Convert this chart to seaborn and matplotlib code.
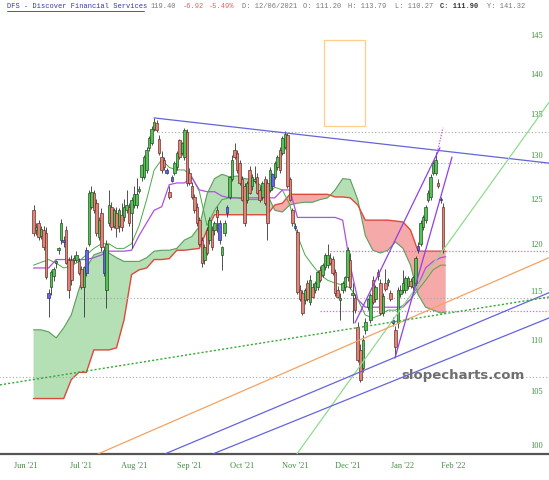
import numpy as np
import pandas as pd
import matplotlib
matplotlib.use("Agg")
import matplotlib.pyplot as plt
import seaborn as sns
from matplotlib.patches import Rectangle
from matplotlib.lines import Line2D
from matplotlib.ticker import NullLocator, NullFormatter

# ---------------- header ----------------
ticker_name = "DFS - Discover Financial Services"
hdr_last = "119.40"
hdr_chg = "-6.92"
hdr_pct = "-5.49%"
hdr_date = "D: 12/06/2021"
hdr_o = "O: 111.20"
hdr_h = "H: 113.79"
hdr_l = "L: 110.27"
hdr_c = "C: 111.90"
hdr_y = "Y: 141.32"

# ---------------- calendar ----------------
holidays = ["2021-07-05", "2021-09-06", "2021-11-25", "2021-12-24", "2022-01-17", "2022-02-21"]
month_labels = ["Jun '21", "Jul '21", "Aug '21", "Sep '21", "Oct '21", "Nov '21", "Dec '21", "Jan '22", "Feb '22"]
first_candle_date = "2021-06-04"

# ---------------- candles (daily OHLC) ----------------
opens = [123.7,121.5,122.3,120.9,121.5,121.2,114.3,115.4,116.6,117.9,119.3,120.4,120.2,121.5,118.3,118.3,118.3,118.3,118.1,117.3,
         115.4,116.9,120.0,124.1,125.7,124.5,120.7,123.4,116.9,115.1,122.3,124.1,122.0,123.4,122.0,123.2,122.9,123.7,124.1,123.4,
         124.3,124.3,125.9,127.5,127.5,128.3,130.9,131.5,133.2,133.9,132.0,129.8,129.5,128.0,125.8,127.0,128.0,128.6,131.8,130.3,
         129.8,132.8,128.0,126.4,125.2,124.1,122.6,120.4,118.3,121.5,120.4,121.5,121.5,123.7,120.4,118.8,121.2,123.4,125.2,127.2,
         130.7,130.3,129.1,127.2,126.4,124.9,128.3,126.4,127.0,127.5,126.0,125.2,127.2,126.8,126.0,126.4,127.5,128.6,130.7,130.3,
         131.0,132.4,127.2,123.7,121.7,121.3,115.1,114.8,114.0,115.8,113.8,115.4,115.1,115.4,117.2,116.7,117.5,117.7,118.5,118.4,
         117.0,115.1,114.0,115.1,115.4,116.4,118.3,114.6,114.3,111.3,109.0,107.2,111.0,113.3,112.0,116.1,114.1,117.0,115.8,112.7,
         115.8,115.9,114.8,111.7,111.0,111.7,114.7,115.1,115.1,115.5,116.0,115.4,115.8,119.3,120.0,121.8,122.6,124.9,125.2,128.0,
         128.0,126.8,124.8,124.1]
highs = [124.3,122.3,122.6,122.0,122.0,121.8,115.2,117.2,117.5,118.3,119.7,122.7,120.9,121.9,118.6,118.8,118.8,119.2,118.5,117.6,
         117.6,119.6,126.0,126.4,126.0,125.0,123.0,123.9,119.8,120.4,126.0,124.6,124.0,124.1,123.9,124.5,125.0,126.0,124.5,125.2,
         126.4,127.4,126.5,129.0,130.0,131.0,132.3,133.5,134.5,134.2,132.4,130.5,129.8,128.5,126.5,127.7,129.3,130.5,132.0,131.6,
         133.3,133.2,128.5,126.9,125.5,124.5,123.0,120.7,120.0,121.8,123.0,122.0,122.5,124.2,122.6,119.8,122.6,124.3,127.6,130.0,
         131.5,130.7,129.5,127.6,126.8,127.0,128.8,127.8,128.8,128.0,126.4,127.0,127.6,127.2,128.6,128.0,129.4,130.0,131.0,132.3,
         132.9,132.7,127.5,124.0,122.3,121.6,115.6,115.1,115.3,116.1,116.7,115.8,116.0,117.2,117.6,117.9,119.0,120.0,119.0,118.7,
         117.3,115.5,114.8,116.0,116.6,119.6,119.0,115.8,114.7,111.8,109.6,110.5,112.2,114.3,114.8,116.6,115.6,117.3,116.2,114.8,
         117.3,116.3,115.1,112.3,111.4,115.4,115.6,117.2,116.5,116.6,116.3,116.6,118.7,120.2,122.6,123.2,124.3,126.0,127.8,129.4,
         130.4,127.2,125.2,124.5]
lows = [120.9,121.0,120.4,120.5,119.3,116.2,112.3,114.6,116.0,117.4,118.9,120.0,119.6,117.8,114.3,115.6,117.9,118.0,116.7,115.2,
        112.3,116.5,119.8,123.8,123.4,120.9,120.4,119.2,116.5,113.2,122.0,121.5,121.7,120.7,121.3,121.4,122.5,123.4,122.0,119.5,
        124.0,124.0,125.6,127.0,127.2,128.0,130.5,131.2,132.9,132.8,130.0,128.0,128.3,127.8,125.0,126.9,127.7,128.3,129.6,130.0,
        129.5,126.5,126.6,125.0,123.4,122.0,119.8,117.5,117.8,118.8,120.0,119.3,121.0,121.3,120.0,117.2,120.9,123.0,125.0,127.0,
        129.6,128.0,126.6,124.7,122.0,124.5,125.5,126.0,126.8,125.5,124.6,124.9,124.3,120.4,125.8,126.0,127.2,128.3,128.0,130.0,
        130.8,126.2,124.7,122.0,121.5,114.7,113.9,112.5,113.6,113.9,113.5,114.2,114.8,115.1,115.9,116.4,117.2,117.4,117.7,116.7,
        114.5,114.3,112.0,114.8,115.0,116.0,115.2,111.7,112.7,107.8,105.9,106.8,110.6,113.0,111.7,113.6,113.8,116.1,112.5,112.4,
        115.0,115.5,113.9,111.4,108.3,111.2,114.4,114.8,114.8,115.2,115.3,115.0,115.5,119.0,119.8,121.5,122.3,124.6,124.9,127.7,
        127.7,126.2,124.5,119.0]
closes = [121.2,121.8,120.7,121.6,119.6,116.4,114.8,117.0,117.3,118.0,119.4,122.3,120.4,117.9,115.1,116.1,118.5,118.8,116.9,115.4,
          117.5,119.3,125.7,125.8,123.7,121.2,122.6,119.6,119.3,120.0,124.3,121.8,123.7,121.7,123.7,121.8,124.1,124.3,122.3,124.9,
          125.5,125.5,126.0,128.9,129.8,130.7,132.1,133.2,134.0,133.0,130.3,128.3,128.6,128.3,125.2,127.5,129.1,130.3,129.8,131.5,
          133.0,126.8,126.8,125.2,123.7,122.3,120.0,117.9,119.6,119.0,122.6,119.6,122.3,122.9,122.3,119.6,122.3,124.1,127.5,129.5,
          129.8,128.3,126.8,124.9,122.3,126.8,125.7,127.5,127.2,125.7,124.9,126.8,124.5,122.3,128.3,127.8,129.1,129.8,128.3,132.1,
          132.6,126.4,124.9,122.3,122.0,114.9,114.1,112.7,115.1,114.1,116.1,114.4,115.8,117.0,116.1,117.7,118.8,118.8,117.9,116.9,
          114.8,114.4,114.2,115.8,116.4,119.3,115.4,114.7,113.0,108.0,106.1,110.0,111.8,114.1,114.6,113.8,115.4,116.5,112.7,114.5,
          115.2,116.0,114.1,112.0,109.3,115.1,115.1,115.8,116.3,116.3,115.5,116.4,118.5,119.8,122.3,122.9,124.1,125.7,127.5,129.1,
          129.5,126.4,125.0,119.4]
tones = ("rgrgrrbgggggbrrrggrr" "gbggrrgrbggrgrgrggrg" "gggggggggrrrrbrbggrg" "grrrrrrrgrgrgrbggbgg"
         "rrrrrgrggrrgrrgbggrg" "grrrbrrrgrgrggrgggrr" "rrggggrgrrrggggrgrrg" "rgrbrgggggrggbgggggg" "grbr")

# ---------------- ichimoku lines (sampled every 3 sessions) ----------------
span_a = [111.0,111.0,110.8,110.2,111.2,112.5,115.1,117.4,118.8,119.1,119.0,118.5,118.1,118.1,118.1,118.5,119.2,119.3,119.3,119.5,
          120.4,120.8,121.9,125.5,127.3,127.8,127.5,127.6,127.3,127.2,126.6,125.5,123.7,123.5,124.3,124.5,124.6,124.6,124.9,125.1,
          126.0,127.3,127.2,124.9,120.9,119.3,119.0,119.3,120.2,119.5,117.7,114.6,113.3,113.0,112.7,112.8]
span_b = [104.3,104.3,104.3,104.3,104.3,106.1,106.8,106.8,109.0,109.0,109.0,109.2,112.0,116.7,117.2,117.4,118.3,118.3,118.4,119.3,
          119.3,119.4,119.5,121.5,123.2,123.2,123.2,123.2,123.2,123.2,123.2,123.2,124.3,124.5,125.5,125.5,125.5,125.5,125.5,125.5,
          125.2,125.2,125.1,124.3,122.6,122.6,122.6,122.6,122.5,122.4,121.5,119.2,119.2,119.2,119.2,119.2]
kijun = [117.4,117.4,117.4,118.3,118.3,118.3,118.3,118.3,118.5,118.8,119.2,119.2,119.2,119.3,120.9,122.3,123.7,124.1,126.6,126.8,
         126.8,127.4,126.0,125.8,125.8,125.3,125.1,125.1,125.1,125.1,125.1,125.1,125.1,126.0,126.0,122.9,122.9,122.9,122.9,122.9,
         122.9,122.6,117.7,114.1,113.3,113.3,113.3,113.3,113.3,113.3,114.1,115.6,117.4,118.1,118.5,118.6]
tenkan = [117.7,118.0,118.3,117.9,117.4,117.6,118.1,118.8,119.5,120.0,120.0,119.5,119.5,120.0,122.0,124.9,128.3,129.5,128.6,128.3,
          128.3,127.5,125.8,122.0,123.7,124.9,125.1,125.1,124.9,124.9,124.9,125.5,126.3,126.0,124.3,120.9,118.8,117.7,116.7,116.1,
          115.8,115.6,115.3,114.1,112.5,112.2,112.5,113.0,113.0,113.5,114.1,115.1,116.1,117.2,117.7,117.7]

# ---------------- drawn studies (session index, price) ----------------
down_trend = [(50.9, 134.5), (208.1, 129.1)]
green_ray = [(107.8, 99.2), (208.1, 136.4)]
orange_ray = [(28.7, 99.2), (208.1, 118.5)]
blue_ray_1 = [(55.3, 99.2), (208.1, 114.8)]
blue_ray_2 = [(74.4, 99.2), (208.1, 112.2)]
green_dotted = [(-10.4, 105.6), (208.1, 114.35)]
channel_a = [(130.9, 111.7), (164.7, 130.9)]
channel_b = [(146.8, 108.2), (169.5, 129.8)]
channel_ext = [(163.9, 130.7), (165.9, 133.3)]
target_box = [(118.6, 133.5), (134.9, 144.3)]
gray_levels = [(132.8, 52.4), (129.1, 63.0), (114.3, 21.5), (106.4, -11.0)]
magenta_levels = [(119.2, 121.0), (112.9, 117.0)]
price_ticks = [100, 105, 110, 115, 120, 125, 130, 135, 140, 145]

# ---------------- figure ----------------
sns.set_theme(style="white")
plt.rcParams["font.family"] = ["DejaVu Sans"]

W, H = 549, 480
fig = plt.figure(figsize=(W / 100, H / 100), dpi=100)
fig.patch.set_facecolor("white")
ax = fig.add_axes([0, 26 / H, 1, 454 / H])
ax.set_facecolor("white")

days = pd.bdate_range("2021-06-01", "2022-04-29", freq="C", holidays=holidays)
month_pos = [int(np.argmax((days.year == d.year) & (days.month == d.month)))
             for d in pd.date_range("2021-06-01", periods=len(month_labels), freq="MS")]
c0 = days.get_loc(pd.Timestamp(first_candle_date))
cx = np.arange(c0, c0 + len(closes))
line_x = np.r_[np.arange(3, 166, 3), 167]

sa = np.array(span_a)
sb = np.array(span_b)
ax.fill_between(line_x, sa, sb, where=sa >= sb, interpolate=True, color="#b5dfb5", lw=0, zorder=1)
ax.fill_between(line_x, sa, sb, where=sa < sb, interpolate=True, color="#f6a9a9", lw=0, zorder=1)

line_df = pd.DataFrame({"x": line_x, "span_a": span_a, "span_b": span_b, "kijun": kijun, "tenkan": tenkan})
sns.lineplot(data=line_df, x="x", y="span_a", ax=ax, color="#5a9e5a", lw=0.8, zorder=2)
sns.lineplot(data=line_df, x="x", y="span_b", ax=ax, color="#dc4a3c", lw=1.0, zorder=2)
sns.lineplot(data=line_df, x="x", y="tenkan", ax=ax, color="#4aa84a", lw=0.7, zorder=2)
sns.lineplot(data=line_df, x="x", y="kijun", ax=ax, color="#b050e0", lw=0.9, zorder=2)

# horizontal levels
for lvl, start in gray_levels:
    ax.plot([start, 215], [lvl, lvl], color="#a8a8a8", lw=0.8, ls=(0, (1, 2)), zorder=2)
for lvl, start in magenta_levels:
    ax.plot([start, 215], [lvl, lvl], color="#dd66dd", lw=0.9, ls=(0, (1, 1.5)), zorder=2)

# candles
fills = {"g": "#56c256", "r": "#df8479", "b": "#6464e4"}
edges = {"g": "#244f24", "r": "#6e3129", "b": "#30307e"}
ax.vlines(cx, lows, highs, color="#333333", lw=0.6, zorder=3)
for x, o, c, t in zip(cx, opens, closes, tones):
    lo, hi = min(o, c), max(o, c)
    if hi - lo < 0.2:
        hi = lo + 0.2
    ax.bar(x, hi - lo, bottom=lo, width=1.0, color=fills[t], edgecolor=edges[t], lw=0.5, zorder=4)

# drawn lines
def seg(pts, **kw):
    ax.plot([pts[0][0], pts[1][0]], [pts[0][1], pts[1][1]], zorder=5, **kw)

seg(down_trend, color="#6464dc", lw=0.9)
seg(green_ray, color="#8fdc8f", lw=0.9)
seg(orange_ray, color="#f4a261", lw=0.9)
seg(blue_ray_1, color="#6464dc", lw=0.9)
seg(blue_ray_2, color="#6464dc", lw=0.9)
seg(green_dotted, color="#33aa33", lw=1.0, ls=(0, (1.5, 1.5)))
seg(channel_a, color="#9040e8", lw=0.9)
seg(channel_b, color="#9040e8", lw=0.9)
seg(channel_ext, color="#cc55dd", lw=0.9, ls=(0, (1, 1.2)))
(bx0, by0), (bx1, by1) = target_box
ax.add_patch(Rectangle((bx0, by0), bx1 - bx0, by1 - by0, fill=False, ec="#ffcf8a", lw=0.9, zorder=5))

# axes
ax.set_xlim(-10.35, 208.1)
ax.set_yscale("log")
ax.set_ylim(99.19, 149.66)
ax.set_yticks(price_ticks, labels=[str(t) for t in price_ticks])
ax.yaxis.set_minor_locator(NullLocator())
ax.yaxis.set_minor_formatter(NullFormatter())
ax.yaxis.tick_right()
ax.tick_params(axis="y", length=0, pad=-13.5, labelsize=6, labelcolor="#3f8f3f")
ax.set_xticks(month_pos, labels=month_labels)
ax.tick_params(axis="x", length=0, pad=6, labelsize=6, labelcolor="#3f8f3f")
for lbl in ax.get_yticklabels() + ax.get_xticklabels():
    lbl.set_fontfamily("Liberation Serif")
ax.set_xlabel("")
ax.set_ylabel("")
for s in ["top", "left", "right"]:
    ax.spines[s].set_visible(False)
ax.spines["bottom"].set_color("#555555")
ax.spines["bottom"].set_linewidth(1.6)
ax.grid(False)

# watermark
ax.text(463 / W, (480 - 376 - 26) / 454, "slopecharts.com", transform=ax.transAxes, ha="center", va="center",
        fontsize=9.5, fontweight="bold", color="#6f6f6f", family="DejaVu Sans", zorder=6)

# header
hy = 1 - 7 / H
mono = "Liberation Mono"
fig.text(7 / W, hy, ticker_name, color="#3535a8", fontsize=5, family=mono, va="center", ha="left")
fig.add_artist(Line2D([7 / W, 144 / W], [1 - 11 / H] * 2, color="#3535a8", lw=0.6))
parts = [(151, hdr_last, "#777777", "normal"), (183, hdr_chg, "#e06060", "normal"), (209, hdr_pct, "#e06060", "normal"),
         (242, hdr_date, "#777777", "normal"), (303, hdr_o, "#777777", "normal"), (348, hdr_h, "#777777", "normal"),
         (395, hdr_l, "#777777", "normal"), (440, hdr_c, "#333333", "bold"), (487, hdr_y, "#777777", "normal")]
for px, txt, col, wt in parts:
    fig.text(px / W, hy, txt, color=col, fontsize=5, family=mono, va="center", ha="left", fontweight=wt)

fig.savefig("out.png", dpi=100)
